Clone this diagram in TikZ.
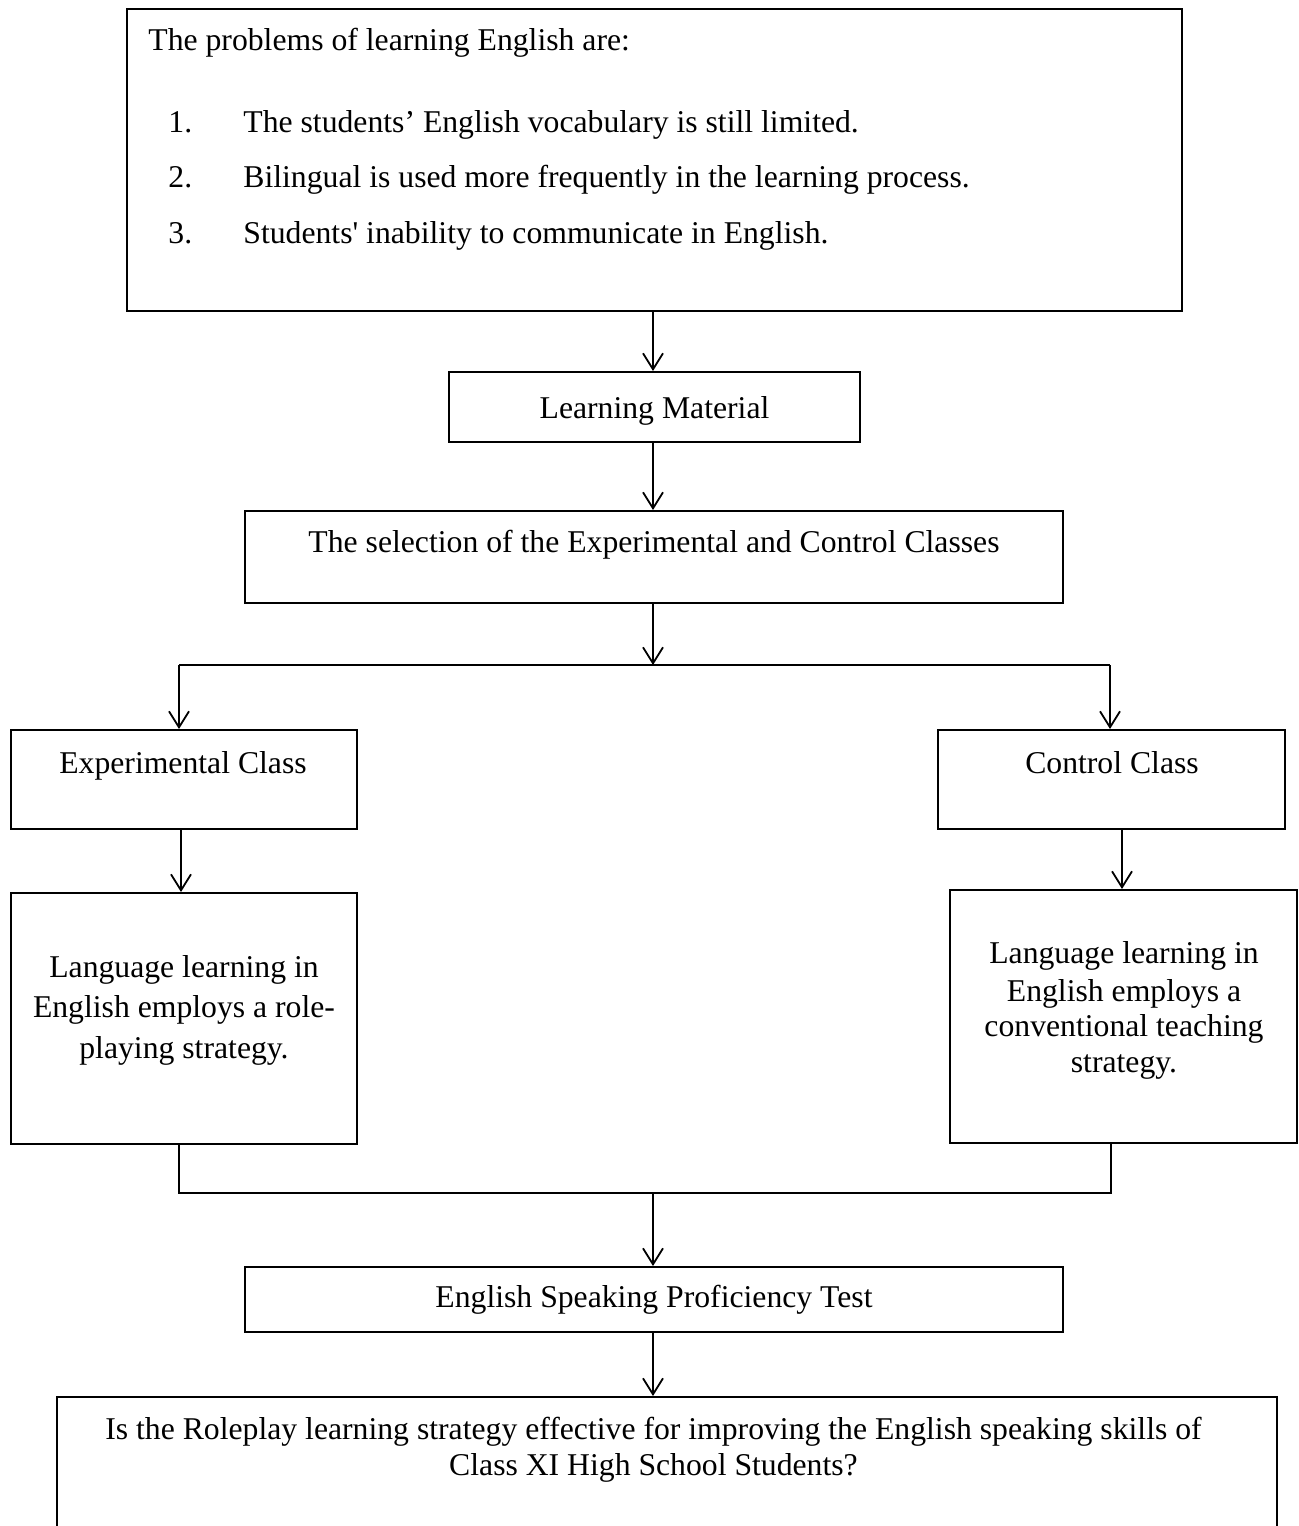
\documentclass[tikz,border=0pt]{standalone}
\usepackage{fontspec}
\setmainfont{Liberation Serif}
\usetikzlibrary{arrows.meta}
\begin{document}
\begin{tikzpicture}[x=0.5pt,y=-0.5pt,
  box/.style={draw, line width=1pt, inner sep=0pt},
  txt/.style={anchor=base, inner sep=0pt, font=\fontsize{15.85}{19}\selectfont},
  txtl/.style={txt, anchor=base west},
  arr/.style={line width=0.9pt, -{Straight Barb[length=8pt,width=10pt,line width=0.9pt]}},
  ln/.style={line width=0.9pt}]
\useasboundingbox (0,0) rectangle (1299,1526);
% boxes
\node[box, minimum width=527.5pt, minimum height=151pt] (top) at (654.5,160) {};
\node[box, minimum width=205.5pt, minimum height=35pt] (lm) at (654.5,407) {};
\node[box, minimum width=409pt, minimum height=46pt] (sel) at (654,557) {};
\node[box, minimum width=173pt, minimum height=49.5pt] (exp) at (184,779.5) {};
\node[box, minimum width=173.5pt, minimum height=49.5pt] (ctl) at (1111.5,779.5) {};
\node[box, minimum width=173pt, minimum height=125.5pt] (expd) at (184,1018.5) {};
\node[box, minimum width=173.5pt, minimum height=126.5pt] (ctld) at (1123.5,1016.5) {};
\node[box, minimum width=409pt, minimum height=32.5pt] (est) at (654,1299.5) {};
\node[box, minimum width=610pt, minimum height=90pt] (q) at (667,1487) {};
% texts
\node[txtl] (t0) at (148,50) {The problems of learning English are:};
\node[txtl] (n1) at (168,132) {1.};
\node[txtl] (i1) at (243,132) {The students’ English vocabulary is still limited.};
\node[txtl] (n2) at (168,187) {2.};
\node[txtl] (i2) at (243,187) {Bilingual is used more frequently in the learning process.};
\node[txtl] (n3) at (168,243) {3.};
\node[txtl] (i3) at (243,243) {Students\textquotesingle{} inability to communicate in English.};
\node[txt] (lmt) at (654.5,418) {Learning Material};
\node[txt] (selt) at (654,552) {The selection of the Experimental and Control Classes};
\node[txt] (expt) at (183,773) {Experimental Class};
\node[txt] (ctlt) at (1112,773) {Control Class};
\node[txt] (e1) at (184,977) {Language learning in};
\node[txt] (e2) at (184,1017) {English employs a role-};
\node[txt] (e3) at (184,1058) {playing strategy.};
\node[txt] (c1) at (1124,963) {Language learning in};
\node[txt] (c2) at (1124,1001) {English employs a};
\node[txt] (c3) at (1124,1036) {conventional teaching};
\node[txt] (c4) at (1124,1072) {strategy.};
\node[txt] (estt) at (654,1307) {English Speaking Proficiency Test};
\node[txt] (q1) at (653.5,1439) {Is the Roleplay learning strategy effective for improving the English speaking skills of};
\node[txt] (q2) at (653.5,1475) {Class XI High School Students?};
% connectors
\coordinate (split) at (653,665);
\coordinate (sl) at (179,665);
\coordinate (sr) at (1110,665);
\coordinate (jl) at (179,1193);
\coordinate (jr) at (1111,1193);
\coordinate (jm) at (653,1193);
\draw[arr] (top.south -| split) -- (lm.north -| split);
\draw[arr] (lm.south -| split) -- (sel.north -| split);
\draw[arr] (sel.south -| split) -- (split);
\draw[ln] (sl) -- (sr);
\draw[arr] (sl) -- (exp.north -| sl);
\draw[arr] (sr) -- (ctl.north -| sr);
\draw[arr] (exp.south -| 181,0) -- (expd.north -| 181,0);
\draw[arr] (ctl.south -| 1122,0) -- (ctld.north -| 1122,0);
\draw[ln] (expd.south -| jl) -- (jl) -- (jr) -- (ctld.south -| jr);
\draw[arr] (jm) -- (est.north -| jm);
\draw[arr] (est.south -| jm) -- (q.north -| jm);
\end{tikzpicture}
\end{document}
